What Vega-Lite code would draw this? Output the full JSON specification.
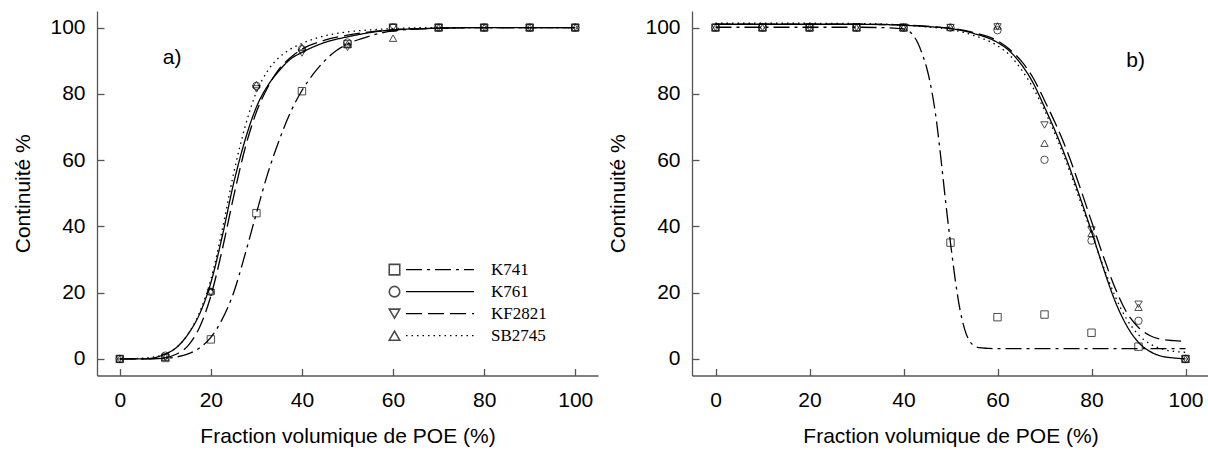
{
  "$schema": "https://vega.github.io/schema/vega-lite/v6.json",
  "padding": {"left": 12, "top": 11, "right": 0, "bottom": 0},
  "background": "white",
  "config": {
    "font": "Liberation Sans",
    "view": {"stroke": null},
    "axis": {
      "grid": false,
      "domainColor": "#555555",
      "domainWidth": 1.3,
      "tickColor": "#555555",
      "tickWidth": 1.3,
      "tickSize": -7,
      "labelFont": "Liberation Sans",
      "labelFontSize": 21,
      "labelColor": "black",
      "titleFont": "Liberation Sans",
      "titleFontSize": 21,
      "titleFontWeight": "normal",
      "titleColor": "black"
    },
    "axisX": {"labelPadding": 21, "titlePadding": 15, "labelFlush": false},
    "axisY": {"labelPadding": 19, "titlePadding": 16, "labelFlush": false}
  },
  "datasets": {
    "lignesA": [
      {"courbe": "K741", "x": 0, "y": 0}, {"courbe": "K741", "x": 5, "y": 0}, {"courbe": "K741", "x": 10, "y": 0.2}, {"courbe": "K741", "x": 12.5, "y": 0.6}, {"courbe": "K741", "x": 15, "y": 1.5}, {"courbe": "K741", "x": 17.5, "y": 3.3}, {"courbe": "K741", "x": 20, "y": 6.5}, {"courbe": "K741", "x": 22.5, "y": 12}, {"courbe": "K741", "x": 25, "y": 20}, {"courbe": "K741", "x": 27.5, "y": 31.5}, {"courbe": "K741", "x": 30, "y": 44}, {"courbe": "K741", "x": 32.5, "y": 56}, {"courbe": "K741", "x": 35, "y": 66}, {"courbe": "K741", "x": 37.5, "y": 74.5}, {"courbe": "K741", "x": 40, "y": 81}, {"courbe": "K741", "x": 42.5, "y": 86}, {"courbe": "K741", "x": 45, "y": 90}, {"courbe": "K741", "x": 47.5, "y": 93}, {"courbe": "K741", "x": 50, "y": 95}, {"courbe": "K741", "x": 55, "y": 97.5}, {"courbe": "K741", "x": 60, "y": 99}, {"courbe": "K741", "x": 70, "y": 99.8}, {"courbe": "K741", "x": 80, "y": 100}, {"courbe": "K741", "x": 90, "y": 100}, {"courbe": "K741", "x": 100, "y": 100},
      {"courbe": "K761", "x": 0, "y": 0}, {"courbe": "K761", "x": 5, "y": 0}, {"courbe": "K761", "x": 8, "y": 0.5}, {"courbe": "K761", "x": 10, "y": 1.5}, {"courbe": "K761", "x": 12.5, "y": 3.5}, {"courbe": "K761", "x": 15, "y": 7.5}, {"courbe": "K761", "x": 17.5, "y": 13.5}, {"courbe": "K761", "x": 20, "y": 23}, {"courbe": "K761", "x": 22.5, "y": 37}, {"courbe": "K761", "x": 25, "y": 53}, {"courbe": "K761", "x": 27.5, "y": 66}, {"courbe": "K761", "x": 30, "y": 76}, {"courbe": "K761", "x": 32.5, "y": 82.5}, {"courbe": "K761", "x": 35, "y": 87}, {"courbe": "K761", "x": 37.5, "y": 90.5}, {"courbe": "K761", "x": 40, "y": 92.5}, {"courbe": "K761", "x": 45, "y": 95.5}, {"courbe": "K761", "x": 50, "y": 97.2}, {"courbe": "K761", "x": 55, "y": 98.5}, {"courbe": "K761", "x": 60, "y": 99.3}, {"courbe": "K761", "x": 70, "y": 99.8}, {"courbe": "K761", "x": 80, "y": 100}, {"courbe": "K761", "x": 90, "y": 100}, {"courbe": "K761", "x": 100, "y": 100},
      {"courbe": "KF2821", "x": 0, "y": 0}, {"courbe": "KF2821", "x": 5, "y": 0}, {"courbe": "KF2821", "x": 10, "y": 0.4}, {"courbe": "KF2821", "x": 12.5, "y": 1.5}, {"courbe": "KF2821", "x": 15, "y": 4}, {"courbe": "KF2821", "x": 17.5, "y": 9.5}, {"courbe": "KF2821", "x": 20, "y": 19}, {"courbe": "KF2821", "x": 22.5, "y": 33}, {"courbe": "KF2821", "x": 25, "y": 49}, {"courbe": "KF2821", "x": 27.5, "y": 63.5}, {"courbe": "KF2821", "x": 30, "y": 74.5}, {"courbe": "KF2821", "x": 32.5, "y": 82}, {"courbe": "KF2821", "x": 35, "y": 87.5}, {"courbe": "KF2821", "x": 37.5, "y": 91}, {"courbe": "KF2821", "x": 40, "y": 93.5}, {"courbe": "KF2821", "x": 45, "y": 96.2}, {"courbe": "KF2821", "x": 50, "y": 97.7}, {"courbe": "KF2821", "x": 55, "y": 98.7}, {"courbe": "KF2821", "x": 60, "y": 99.3}, {"courbe": "KF2821", "x": 70, "y": 99.8}, {"courbe": "KF2821", "x": 80, "y": 100}, {"courbe": "KF2821", "x": 90, "y": 100}, {"courbe": "KF2821", "x": 100, "y": 100},
      {"courbe": "SB2745", "x": 0, "y": 0}, {"courbe": "SB2745", "x": 5, "y": 0.2}, {"courbe": "SB2745", "x": 10, "y": 1.5}, {"courbe": "SB2745", "x": 12.5, "y": 3.5}, {"courbe": "SB2745", "x": 15, "y": 7.5}, {"courbe": "SB2745", "x": 17.5, "y": 14}, {"courbe": "SB2745", "x": 20, "y": 24}, {"courbe": "SB2745", "x": 22.5, "y": 39}, {"courbe": "SB2745", "x": 25, "y": 56}, {"courbe": "SB2745", "x": 27.5, "y": 70}, {"courbe": "SB2745", "x": 30, "y": 80.5}, {"courbe": "SB2745", "x": 32.5, "y": 87}, {"courbe": "SB2745", "x": 35, "y": 91}, {"courbe": "SB2745", "x": 37.5, "y": 93.5}, {"courbe": "SB2745", "x": 40, "y": 95.2}, {"courbe": "SB2745", "x": 45, "y": 97.5}, {"courbe": "SB2745", "x": 50, "y": 98.7}, {"courbe": "SB2745", "x": 55, "y": 99.3}, {"courbe": "SB2745", "x": 60, "y": 99.7}, {"courbe": "SB2745", "x": 70, "y": 100}, {"courbe": "SB2745", "x": 80, "y": 100}, {"courbe": "SB2745", "x": 90, "y": 100}, {"courbe": "SB2745", "x": 100, "y": 100}
    ],
    "pointsA": [
      {"serie": "K741", "x": 0, "y": 0}, {"serie": "K741", "x": 10, "y": 0.3}, {"serie": "K741", "x": 20, "y": 5.9}, {"serie": "K741", "x": 30, "y": 44}, {"serie": "K741", "x": 40, "y": 80.8}, {"serie": "K741", "x": 50, "y": 95}, {"serie": "K741", "x": 60, "y": 100}, {"serie": "K741", "x": 70, "y": 100}, {"serie": "K741", "x": 80, "y": 100}, {"serie": "K741", "x": 90, "y": 100}, {"serie": "K741", "x": 100, "y": 100},
      {"serie": "K761", "x": 0, "y": 0}, {"serie": "K761", "x": 10, "y": 1}, {"serie": "K761", "x": 20, "y": 20.2}, {"serie": "K761", "x": 30, "y": 82.4}, {"serie": "K761", "x": 40, "y": 93.5}, {"serie": "K761", "x": 50, "y": 95.5}, {"serie": "K761", "x": 60, "y": 100}, {"serie": "K761", "x": 70, "y": 100}, {"serie": "K761", "x": 80, "y": 100}, {"serie": "K761", "x": 90, "y": 100}, {"serie": "K761", "x": 100, "y": 100},
      {"serie": "KF2821", "x": 0, "y": 0}, {"serie": "KF2821", "x": 10, "y": 0.5}, {"serie": "KF2821", "x": 20, "y": 20}, {"serie": "KF2821", "x": 30, "y": 81.5}, {"serie": "KF2821", "x": 40, "y": 92.3}, {"serie": "KF2821", "x": 50, "y": 94}, {"serie": "KF2821", "x": 60, "y": 100}, {"serie": "KF2821", "x": 70, "y": 100}, {"serie": "KF2821", "x": 80, "y": 100}, {"serie": "KF2821", "x": 90, "y": 100}, {"serie": "KF2821", "x": 100, "y": 100},
      {"serie": "SB2745", "x": 0, "y": 0}, {"serie": "SB2745", "x": 10, "y": 0.5}, {"serie": "SB2745", "x": 20, "y": 20.5}, {"serie": "SB2745", "x": 30, "y": 82.8}, {"serie": "SB2745", "x": 40, "y": 94}, {"serie": "SB2745", "x": 50, "y": 95}, {"serie": "SB2745", "x": 60, "y": 96.8}, {"serie": "SB2745", "x": 70, "y": 100}, {"serie": "SB2745", "x": 80, "y": 100}, {"serie": "SB2745", "x": 90, "y": 100}, {"serie": "SB2745", "x": 100, "y": 100}
    ],
    "lignesB": [
      {"courbe": "K741", "x": 0, "y": 100.1}, {"courbe": "K741", "x": 10, "y": 100.1}, {"courbe": "K741", "x": 20, "y": 100.1}, {"courbe": "K741", "x": 30, "y": 100.1}, {"courbe": "K741", "x": 35, "y": 100}, {"courbe": "K741", "x": 40, "y": 99.6}, {"courbe": "K741", "x": 42, "y": 97.8}, {"courbe": "K741", "x": 43, "y": 95.5}, {"courbe": "K741", "x": 44, "y": 92}, {"courbe": "K741", "x": 45, "y": 87.5}, {"courbe": "K741", "x": 46, "y": 81}, {"courbe": "K741", "x": 47, "y": 72}, {"courbe": "K741", "x": 48, "y": 60}, {"courbe": "K741", "x": 49, "y": 47}, {"courbe": "K741", "x": 50, "y": 35}, {"courbe": "K741", "x": 51, "y": 24}, {"courbe": "K741", "x": 52, "y": 15}, {"courbe": "K741", "x": 53, "y": 9}, {"courbe": "K741", "x": 54, "y": 5.5}, {"courbe": "K741", "x": 55, "y": 4}, {"courbe": "K741", "x": 56, "y": 3.4}, {"courbe": "K741", "x": 58, "y": 3.2}, {"courbe": "K741", "x": 60, "y": 3.1}, {"courbe": "K741", "x": 70, "y": 3.1}, {"courbe": "K741", "x": 80, "y": 3.1}, {"courbe": "K741", "x": 90, "y": 3.1}, {"courbe": "K741", "x": 100, "y": 3.1},
      {"courbe": "K761", "x": 0, "y": 101}, {"courbe": "K761", "x": 10, "y": 101}, {"courbe": "K761", "x": 20, "y": 101}, {"courbe": "K761", "x": 30, "y": 101}, {"courbe": "K761", "x": 40, "y": 100.7}, {"courbe": "K761", "x": 45, "y": 100.3}, {"courbe": "K761", "x": 50, "y": 99.7}, {"courbe": "K761", "x": 55, "y": 98.2}, {"courbe": "K761", "x": 60, "y": 95.5}, {"courbe": "K761", "x": 62.5, "y": 93}, {"courbe": "K761", "x": 65, "y": 89}, {"courbe": "K761", "x": 67.5, "y": 83.5}, {"courbe": "K761", "x": 70, "y": 76}, {"courbe": "K761", "x": 72.5, "y": 68}, {"courbe": "K761", "x": 75, "y": 59}, {"courbe": "K761", "x": 77.5, "y": 49}, {"courbe": "K761", "x": 80, "y": 38.5}, {"courbe": "K761", "x": 82.5, "y": 27.5}, {"courbe": "K761", "x": 85, "y": 17.5}, {"courbe": "K761", "x": 87.5, "y": 10}, {"courbe": "K761", "x": 90, "y": 5}, {"courbe": "K761", "x": 92.5, "y": 2.2}, {"courbe": "K761", "x": 95, "y": 0.8}, {"courbe": "K761", "x": 97.5, "y": 0.3}, {"courbe": "K761", "x": 100, "y": 0},
      {"courbe": "KF2821", "x": 0, "y": 101}, {"courbe": "KF2821", "x": 10, "y": 101}, {"courbe": "KF2821", "x": 20, "y": 101}, {"courbe": "KF2821", "x": 30, "y": 101}, {"courbe": "KF2821", "x": 40, "y": 100.8}, {"courbe": "KF2821", "x": 45, "y": 100.4}, {"courbe": "KF2821", "x": 50, "y": 99.8}, {"courbe": "KF2821", "x": 55, "y": 98.5}, {"courbe": "KF2821", "x": 60, "y": 96}, {"courbe": "KF2821", "x": 62.5, "y": 93.5}, {"courbe": "KF2821", "x": 65, "y": 90}, {"courbe": "KF2821", "x": 67.5, "y": 85}, {"courbe": "KF2821", "x": 70, "y": 78}, {"courbe": "KF2821", "x": 72.5, "y": 70.5}, {"courbe": "KF2821", "x": 75, "y": 62}, {"courbe": "KF2821", "x": 77.5, "y": 52}, {"courbe": "KF2821", "x": 80, "y": 41.5}, {"courbe": "KF2821", "x": 82.5, "y": 31}, {"courbe": "KF2821", "x": 85, "y": 21.5}, {"courbe": "KF2821", "x": 87.5, "y": 14}, {"courbe": "KF2821", "x": 90, "y": 9.5}, {"courbe": "KF2821", "x": 92.5, "y": 7}, {"courbe": "KF2821", "x": 95, "y": 5.9}, {"courbe": "KF2821", "x": 97.5, "y": 5.5}, {"courbe": "KF2821", "x": 100, "y": 5.3},
      {"courbe": "SB2745", "x": 0, "y": 101.3}, {"courbe": "SB2745", "x": 10, "y": 101.3}, {"courbe": "SB2745", "x": 20, "y": 101.3}, {"courbe": "SB2745", "x": 30, "y": 101.2}, {"courbe": "SB2745", "x": 40, "y": 100.8}, {"courbe": "SB2745", "x": 45, "y": 100.2}, {"courbe": "SB2745", "x": 50, "y": 99.4}, {"courbe": "SB2745", "x": 55, "y": 97.6}, {"courbe": "SB2745", "x": 60, "y": 94.5}, {"courbe": "SB2745", "x": 62.5, "y": 91.8}, {"courbe": "SB2745", "x": 65, "y": 87.5}, {"courbe": "SB2745", "x": 67.5, "y": 82}, {"courbe": "SB2745", "x": 70, "y": 75}, {"courbe": "SB2745", "x": 72.5, "y": 67}, {"courbe": "SB2745", "x": 75, "y": 58}, {"courbe": "SB2745", "x": 77.5, "y": 48}, {"courbe": "SB2745", "x": 80, "y": 38}, {"courbe": "SB2745", "x": 82.5, "y": 28}, {"courbe": "SB2745", "x": 85, "y": 19}, {"courbe": "SB2745", "x": 87.5, "y": 12}, {"courbe": "SB2745", "x": 90, "y": 7.3}, {"courbe": "SB2745", "x": 92.5, "y": 4.5}, {"courbe": "SB2745", "x": 95, "y": 3}, {"courbe": "SB2745", "x": 97.5, "y": 2.3}, {"courbe": "SB2745", "x": 100, "y": 2}
    ],
    "pointsB": [
      {"serie": "K741", "x": 0, "y": 100}, {"serie": "K741", "x": 10, "y": 100}, {"serie": "K741", "x": 20, "y": 100}, {"serie": "K741", "x": 30, "y": 100}, {"serie": "K741", "x": 40, "y": 100}, {"serie": "K741", "x": 50, "y": 35.1}, {"serie": "K741", "x": 60, "y": 12.6}, {"serie": "K741", "x": 70, "y": 13.4}, {"serie": "K741", "x": 80, "y": 7.9}, {"serie": "K741", "x": 90, "y": 3.7}, {"serie": "K741", "x": 100, "y": 0},
      {"serie": "K761", "x": 0, "y": 100}, {"serie": "K761", "x": 10, "y": 100}, {"serie": "K761", "x": 20, "y": 100}, {"serie": "K761", "x": 30, "y": 100}, {"serie": "K761", "x": 40, "y": 100}, {"serie": "K761", "x": 50, "y": 100}, {"serie": "K761", "x": 60, "y": 99.2}, {"serie": "K761", "x": 70, "y": 60.1}, {"serie": "K761", "x": 80, "y": 35.7}, {"serie": "K761", "x": 90, "y": 11.5}, {"serie": "K761", "x": 100, "y": 0},
      {"serie": "KF2821", "x": 0, "y": 100}, {"serie": "KF2821", "x": 10, "y": 100}, {"serie": "KF2821", "x": 20, "y": 100}, {"serie": "KF2821", "x": 30, "y": 100}, {"serie": "KF2821", "x": 40, "y": 100}, {"serie": "KF2821", "x": 50, "y": 100}, {"serie": "KF2821", "x": 60, "y": 100.2}, {"serie": "KF2821", "x": 70, "y": 70.6}, {"serie": "KF2821", "x": 80, "y": 38.9}, {"serie": "KF2821", "x": 90, "y": 16.5}, {"serie": "KF2821", "x": 100, "y": 0},
      {"serie": "SB2745", "x": 0, "y": 100}, {"serie": "SB2745", "x": 10, "y": 100}, {"serie": "SB2745", "x": 20, "y": 100}, {"serie": "SB2745", "x": 30, "y": 100}, {"serie": "SB2745", "x": 40, "y": 100}, {"serie": "SB2745", "x": 50, "y": 100}, {"serie": "SB2745", "x": 60, "y": 100.5}, {"serie": "SB2745", "x": 70, "y": 65.1}, {"serie": "SB2745", "x": 80, "y": 37.9}, {"serie": "SB2745", "x": 90, "y": 15.6}, {"serie": "SB2745", "x": 100, "y": 0}
    ],
    "etiquettes": [
      {"panneau": "a", "x": 11.5, "y": 90.9, "label": "a)"},
      {"panneau": "b", "x": 89.4, "y": 90, "label": "b)"}
    ]
  },
  "hconcat": [
    {
      "width": 501,
      "height": 364.5,
      "layer": [
        {
          "data": {"name": "lignesA"},
          "mark": {"type": "line", "interpolate": "monotone", "color": "black", "strokeWidth": 1.3},
          "encoding": {
            "x": {"field": "x", "type": "quantitative", "scale": {"domain": [-5, 105], "nice": false, "zero": false}, "axis": {"title": "Fraction volumique de POE (%)", "values": [0, 20, 40, 60, 80, 100]}},
            "y": {"field": "y", "type": "quantitative", "scale": {"domain": [-5, 105], "nice": false, "zero": false}, "axis": {"title": "Continuité %", "values": [0, 20, 40, 60, 80, 100]}},
            "strokeDash": {
              "field": "courbe", "type": "nominal",
              "scale": {"range": [[16, 5, 3, 5], [1, 0], [16, 6], [1.5, 4]]},
              "legend": {
                "title": null, "orient": "none", "legendX": 308, "legendY": 248,
                "symbolType": "stroke", "symbolSize": 4624, "symbolStrokeWidth": 1.3, "symbolStrokeColor": "black",
                "labelFont": "Liberation Serif", "labelFontSize": 17, "labelColor": "black",
                "clipHeight": 21.3, "rowPadding": 0, "labelOffset": 16, "padding": 0
              }
            }
          }
        },
        {
          "data": {"name": "pointsA"},
          "mark": {"type": "point", "filled": false, "color": "black", "size": 55, "strokeWidth": 1},
          "encoding": {
            "x": {"field": "x", "type": "quantitative"},
            "y": {"field": "y", "type": "quantitative"},
            "shape": {
              "field": "serie", "type": "nominal",
              "scale": {"range": ["square", "circle", "triangle-down", "triangle-up"]},
              "legend": {
                "title": null, "orient": "none", "legendX": 291, "legendY": 248,
                "symbolSize": 110, "symbolStrokeWidth": 1.6, "symbolStrokeColor": "black", "symbolFillColor": "transparent",
                "labelExpr": "''", "clipHeight": 21.3, "rowPadding": 0, "padding": 0
              }
            }
          }
        },
        {
          "data": {"name": "etiquettes"},
          "transform": [{"filter": "datum.panneau == 'a'"}],
          "mark": {"type": "text", "font": "Liberation Sans", "fontSize": 21, "color": "black", "align": "center", "baseline": "middle"},
          "encoding": {
            "x": {"field": "x", "type": "quantitative"},
            "y": {"field": "y", "type": "quantitative"},
            "text": {"field": "label"}
          }
        }
      ]
    },
    {
      "width": 517,
      "height": 364.5,
      "layer": [
        {
          "data": {"name": "lignesB"},
          "mark": {"type": "line", "interpolate": "monotone", "color": "black", "strokeWidth": 1.3},
          "encoding": {
            "x": {"field": "x", "type": "quantitative", "scale": {"domain": [-5, 105], "nice": false, "zero": false}, "axis": {"title": "Fraction volumique de POE (%)", "values": [0, 20, 40, 60, 80, 100]}},
            "y": {"field": "y", "type": "quantitative", "scale": {"domain": [-5, 105], "nice": false, "zero": false}, "axis": {"title": "Continuité %", "values": [0, 20, 40, 60, 80, 100]}},
            "strokeDash": {
              "field": "courbe", "type": "nominal",
              "scale": {"range": [[16, 5, 3, 5], [1, 0], [16, 6], [1.5, 4]]},
              "legend": null
            }
          }
        },
        {
          "data": {"name": "pointsB"},
          "mark": {"type": "point", "filled": false, "color": "black", "size": 55, "strokeWidth": 1},
          "encoding": {
            "x": {"field": "x", "type": "quantitative"},
            "y": {"field": "y", "type": "quantitative"},
            "shape": {
              "field": "serie", "type": "nominal",
              "scale": {"range": ["square", "circle", "triangle-down", "triangle-up"]},
              "legend": null
            }
          }
        },
        {
          "data": {"name": "etiquettes"},
          "transform": [{"filter": "datum.panneau == 'b'"}],
          "mark": {"type": "text", "font": "Liberation Sans", "fontSize": 21, "color": "black", "align": "center", "baseline": "middle"},
          "encoding": {
            "x": {"field": "x", "type": "quantitative"},
            "y": {"field": "y", "type": "quantitative"},
            "text": {"field": "label"}
          }
        }
      ]
    }
  ],
  "spacing": 9,
  "resolve": {
    "scale": {"x": "independent", "y": "independent", "shape": "independent", "strokeDash": "independent"},
    "legend": {"shape": "independent", "strokeDash": "independent"}
  }
}
